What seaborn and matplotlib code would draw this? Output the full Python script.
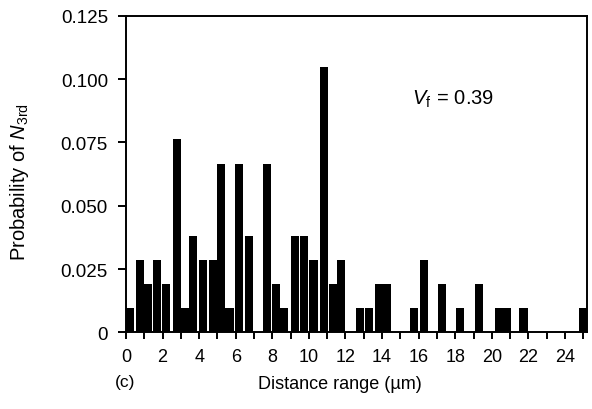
import numpy as np
import pandas as pd
import matplotlib
matplotlib.use("Agg")
import matplotlib.pyplot as plt
import seaborn as sns
from matplotlib.ticker import FixedLocator, MultipleLocator

# ---- data ----
distance = [0.22, 0.76, 1.22, 1.72, 2.20, 2.78, 3.24, 3.66, 4.20, 4.75,
            5.18, 5.66, 6.20, 6.72, 7.70, 8.18, 8.66, 9.25, 9.75, 10.25,
            10.85, 11.30, 11.75, 12.77, 13.27, 13.85, 14.28, 15.75, 16.28, 17.30,
            18.26, 19.29, 20.37, 20.80, 21.73, 24.98]
probability = [0.0095, 0.0286, 0.0190, 0.0286, 0.0190, 0.0762, 0.0095, 0.0381, 0.0286, 0.0286,
               0.0667, 0.0095, 0.0667, 0.0381, 0.0667, 0.0190, 0.0095, 0.0381, 0.0381, 0.0286,
               0.1048, 0.0190, 0.0286, 0.0095, 0.0095, 0.0190, 0.0190, 0.0095, 0.0286, 0.0190,
               0.0095, 0.0190, 0.0095, 0.0095, 0.0095, 0.0095]
x_ticks = [0, 2, 4, 6, 8, 10, 12, 14, 16, 18, 20, 22, 24]
x_tick_labels = ["0", "2", "4", "6", "8", "10", "12", "14", "16", "18", "20", "22", "24"]
y_ticks = [0, 0.025, 0.050, 0.075, 0.100, 0.125]
y_tick_labels = ["0", "0.025", "0.050", "0.075", "0.100", "0.125"]
annotation = r"$\mathit{V}_{\mathrm{f}}\,{=}\,0.39$"
panel_label = "(c)"

df = pd.DataFrame({"distance": distance, "probability": probability})

sns.set_style("ticks")
plt.rcParams["font.family"] = ["Liberation Sans", "DejaVu Sans"]
plt.rcParams["mathtext.fontset"] = "custom"
plt.rcParams["mathtext.rm"] = "Liberation Sans"
plt.rcParams["mathtext.it"] = "Liberation Sans:italic"
plt.rcParams["mathtext.bf"] = "Liberation Sans:bold"
plt.rcParams["text.color"] = "black"
plt.rcParams["axes.labelcolor"] = "black"

fig = plt.figure(figsize=(5.92, 4.10), dpi=100)
ax = fig.add_axes([0.2128, 0.1866, 0.7787, 0.7724])

bar_w = 0.44
native = np.min(np.diff(np.sort(np.unique(df["distance"]))))
sns.barplot(data=df, x="distance", y="probability", native_scale=True,
            color="black", saturation=1, width=bar_w / native,
            errorbar=None, linewidth=0, ax=ax)

ax.set_xlim(0, 25.2)
ax.set_ylim(0, 0.125)
ax.xaxis.set_major_locator(FixedLocator(x_ticks))
ax.set_xticklabels(x_tick_labels)
ax.xaxis.set_minor_locator(MultipleLocator(1))
ax.yaxis.set_major_locator(FixedLocator(y_ticks))
ax.set_yticklabels(y_tick_labels)

for s in ax.spines.values():
    s.set_visible(True)
    s.set_linewidth(1.4)
    s.set_color("black")

ax.tick_params(axis="x", which="both", direction="out", length=5, width=1.4,
               labelsize=13, pad=6, colors="black")
ax.tick_params(axis="y", which="major", direction="out", length=6, width=1.4,
               labelsize=13.5, pad=7, colors="black")

ax.set_xlabel("Distance range (\u00b5m)", fontsize=13)
ax.set_ylabel(r"Probability of $\mathit{N}_{\mathrm{3rd}}$", fontsize=14.5)
ax.xaxis.set_label_coords((340 - 126) / 461, -0.135)
ax.yaxis.set_label_coords(-0.205, 0.48)

ax.text(0.62, 0.74, annotation, transform=ax.transAxes, fontsize=14.5,
        ha="left", va="center")
fig.text(125 / 592, 1 - 383 / 410, panel_label, fontsize=12.5, ha="center", va="center")

fig.savefig("out.png", dpi=100)
